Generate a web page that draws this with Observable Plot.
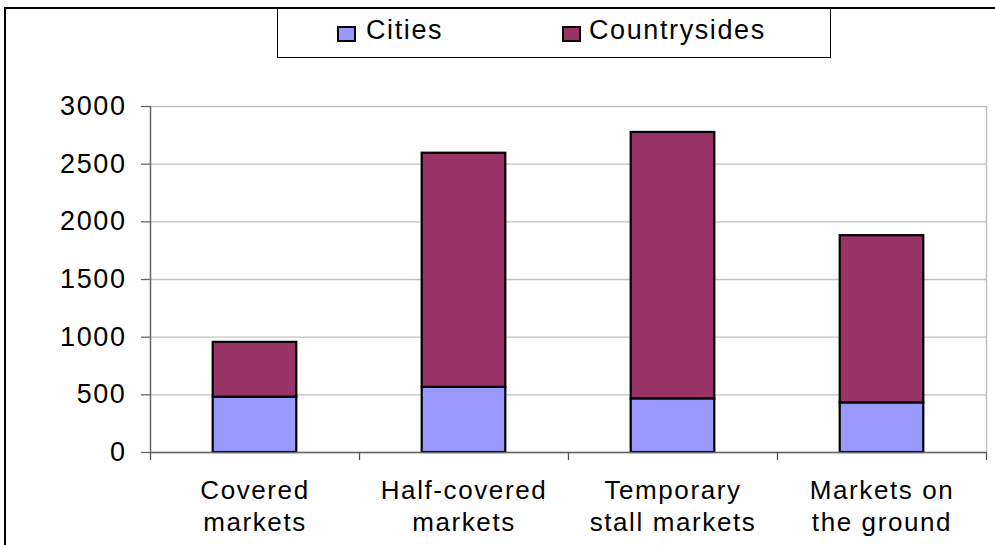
<!DOCTYPE html>
<html>
<head>
<meta charset="utf-8">
<script src="https://cdn.jsdelivr.net/npm/d3@7"></script>
<script src="https://cdn.jsdelivr.net/npm/@observablehq/plot@0.6"></script>
<style>
  html, body { margin: 0; padding: 0; background: #fff; }
  #wrap { position: relative; width: 995px; height: 545px; overflow: hidden; font-family: "Liberation Sans", Arial, sans-serif; }
  #frame { position: absolute; left: 4px; top: 7px; width: 1200px; height: 800px; border-left: 2.5px solid #000; border-top: 2.5px solid #000; }
  #legend { position: absolute; left: 277px; top: 8px; width: 552px; height: 48px; border: 1px solid #000; background: #fff; }
  .sw { position: absolute; top: 17px; width: 15px; height: 12px; border: 2px solid #000; }
  .lt { position: absolute; top: 3px; font-size: 27px; letter-spacing: 1.6px; color: #000; line-height: 36px; }
  #chart { position: absolute; left: 0; top: 0; }
</style>
</head>
<body>
<div id="wrap">
  <div id="frame"></div>
  <div id="chart"></div>
  <div id="legend"></div>
</div>
<script>
const categories = ["Covered\nmarkets", "Half-covered\nmarkets", "Temporary\nstall markets", "Markets on\nthe ground"];
const cities = [480, 565, 465, 430];
const countrysides = [475, 2030, 2310, 1450];
const seriesNames = ["Cities", "Countrysides"];
const seriesColors = ["#9999FF", "#993366"];
const yTicks = [0, 500, 1000, 1500, 2000, 2500, 3000];

const rows = categories.flatMap((c, i) => [
  {i, cat: c, series: "Cities", y1: 0, y2: cities[i]},
  {i, cat: c, series: "Countrysides", y1: cities[i], y2: cities[i] + countrysides[i]}
]);

const chart = Plot.plot({
  width: 995,
  height: 545,
  marginLeft: 150,
  marginRight: 9,
  marginTop: 106,
  marginBottom: 93,
  style: {fontFamily: "Liberation Sans, Arial, sans-serif", fontSize: "27px", color: "#000", background: "transparent", overflow: "visible", letterSpacing: "1.6px"},
  x: {type: "linear", domain: [0, categories.length]},
  y: {domain: [0, 3000]},
  color: {domain: seriesNames, range: seriesColors},
  marks: [
    Plot.gridY(yTicks, {stroke: "#c0c0c0", strokeOpacity: 1, strokeWidth: 1.3}),
    Plot.ruleX([categories.length], {stroke: "#c0c0c0", strokeWidth: 1.5}),
    Plot.rectY(rows, {x1: d => d.i + 0.3, x2: d => d.i + 0.7, y1: "y1", y2: "y2", fill: "series", stroke: "#000", strokeWidth: 2.2}),
    Plot.ruleX([0], {stroke: "#666", strokeWidth: 1.5}),
    Plot.ruleY([0], {stroke: "#666", strokeWidth: 1.5}),
    Plot.axisY({ticks: yTicks, tickSize: 9, tickPadding: 15, stroke: "#666", strokeWidth: 1.3, fontSize: 27, tickFormat: d => String(d), fill: "#000"}),
    Plot.axisX({ticks: d3.range(categories.length + 1), tickSize: 8, stroke: "#555", strokeWidth: 1.3, tickFormat: () => ""}),
    Plot.axisX({ticks: categories.map((c, i) => i + 0.5), tickSize: 0, tickPadding: 23, fontSize: 26, lineHeight: 1.25, fill: "#000", tickFormat: t => categories[Math.floor(t)]})
  ]
});
document.getElementById("chart").appendChild(chart);

// legend
const legend = document.getElementById("legend");
const legendPos = [{sw: 59, tx: 88}, {sw: 284, tx: 311}];
seriesNames.forEach((s, k) => {
  const sw = document.createElement("div");
  sw.className = "sw";
  sw.style.left = legendPos[k].sw + "px";
  sw.style.background = seriesColors[k];
  legend.appendChild(sw);
  const t = document.createElement("div");
  t.className = "lt";
  t.style.left = legendPos[k].tx + "px";
  t.textContent = s;
  legend.appendChild(t);
});
</script>
</body>
</html>
